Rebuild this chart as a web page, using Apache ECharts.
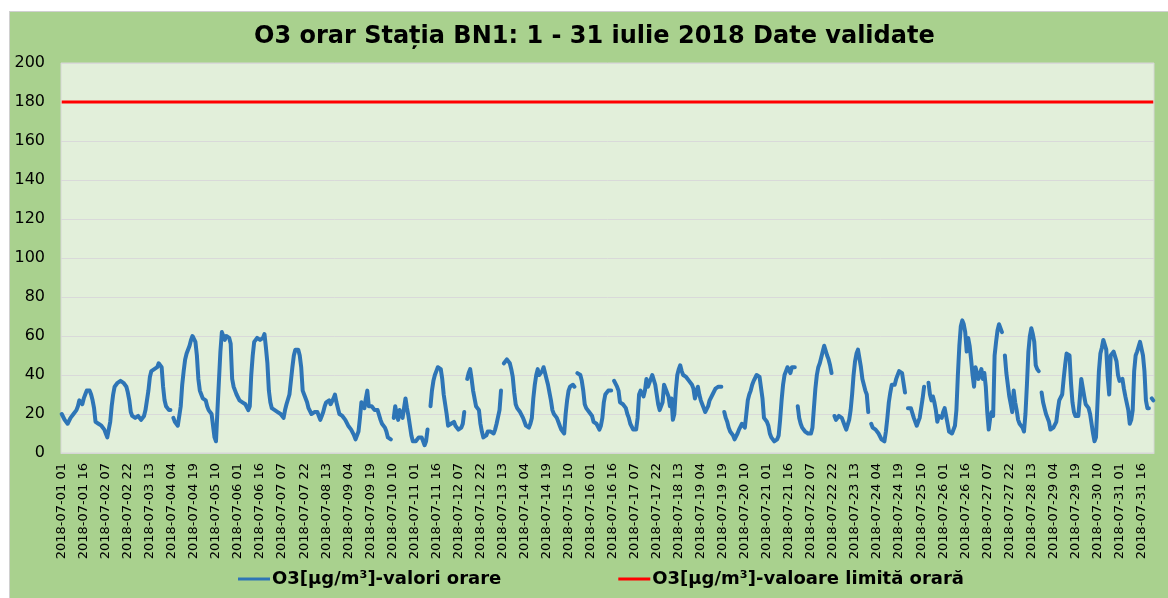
<html lang="ro">
<head>
<meta charset="utf-8">
<title>O3 orar BN1</title>
<script src="https://cdn.jsdelivr.net/npm/echarts@6/dist/echarts.min.js"></script>
<style>
  body { margin: 0; background: #fff; }
  #chart { position: absolute; left: 9px; top: 11px; width: 1159px; height: 587px;
           background: #a9d18e; box-sizing: border-box; border-top: 1px solid #d0d0d0; border-left: 1px solid #d0d0d0; }
</style>
</head>
<body>
<div id="chart"></div>
<script>
// valori orare O3 (µg/m³), o linie = o zi (ore 01..24)
var o3Values = [
  20,19,17,16,15,16,18,19,20,21,22,24,27,26,25,28,30,32,33,32,30,27,23,16,
  15,15,15,14,13,12,10,8,9,16,24,30,34,35,36,37,37,37,36,35,34,31,27,21,
  19,18,18,18,19,18,17,16,19,22,27,32,39,42,43,43,44,44,46,47,44,34,27,24,
  23,22,22,null,18,16,15,14,13,24,35,42,48,51,52,55,58,60,59,57,50,38,32,30,
  28,27,27,24,22,21,20,19,8,6,22,37,52,62,63,58,60,61,59,56,38,34,32,30,
  29,27,26,26,25,25,24,22,24,40,50,57,58,59,60,58,57,59,61,54,46,32,26,23,
  23,22,22,21,21,20,19,18,22,25,26,30,37,44,50,53,53,53,50,44,32,30,29,26,
  23,22,20,21,21,22,21,19,17,19,21,24,26,26,27,25,24,28,30,26,23,20,19,19,
  18,17,16,14,13,12,11,9,7,6,11,18,26,27,23,28,32,24,23,24,23,22,22,22,
  21,17,15,14,13,11,8,7,7,null,18,24,20,17,22,21,18,17,28,23,19,14,9,6,
  6,6,7,8,8,8,6,4,6,12,null,24,32,37,40,42,44,44,43,38,30,25,20,14,
  14,15,16,16,14,13,12,11,13,15,21,null,38,41,43,38,32,28,24,23,22,15,11,8,
  8,9,11,12,11,11,10,12,15,16,22,32,null,46,47,48,47,46,43,39,31,25,23,22,
  21,20,18,16,14,13,13,15,18,28,35,40,43,40,40,42,44,41,38,35,31,27,22,20,
  19,18,16,14,12,11,10,20,27,32,34,35,35,34,null,41,41,40,37,32,25,23,22,21,
  20,19,16,16,15,15,12,14,18,26,30,31,32,33,32,null,37,36,34,32,26,26,25,25,
  23,20,18,15,14,12,11,12,18,30,32,32,29,32,38,34,33,38,40,41,35,30,25,22,
  21,26,35,34,31,29,24,28,17,20,32,40,43,45,42,40,40,39,38,37,36,35,33,28,
  31,34,30,27,25,23,21,22,24,27,28,30,31,33,34,34,35,34,null,21,18,16,13,11,
  10,9,7,7,10,12,13,15,14,13,20,27,30,32,35,37,38,40,40,39,38,28,18,17,
  16,14,10,8,7,6,6,7,9,17,27,35,40,42,44,43,41,44,44,44,null,24,18,15,
  13,12,11,10,10,9,10,13,23,33,40,44,46,49,52,55,54,50,48,45,41,null,19,17,
  18,19,18,18,19,14,12,12,17,22,30,40,47,51,53,52,44,38,35,32,30,21,null,15,
  13,13,12,11,10,9,7,6,6,11,18,26,31,35,36,35,38,40,42,42,41,36,31,null,
  23,24,23,22,18,16,14,15,18,23,28,34,null,null,36,30,27,29,26,22,16,19,20,18,
  21,23,22,15,11,11,10,9,14,22,40,55,65,68,66,62,52,59,55,48,40,34,44,41,
  38,37,43,38,41,34,21,12,18,21,19,50,57,63,66,65,62,null,50,41,35,29,25,21,
  32,26,22,17,15,15,13,11,20,35,52,60,64,61,57,45,43,42,null,31,26,23,20,18,
  16,12,12,13,13,16,22,27,27,30,38,45,51,52,50,36,26,21,19,18,19,28,38,37,
  29,25,24,23,20,15,10,6,8,25,42,51,54,58,59,53,39,30,50,51,52,51,47,40,
  37,36,38,33,29,28,22,15,17,22,42,50,52,53,57,58,50,42,27,23,23,null,28,27
];
var limitValue = 180;
var yTicks = { min: 0, max: 200, step: 20 };

// etichete orare 2018-07-01 01 ... 2018-07-31 24
var categories = [];
for (var d = 1; d <= 31; d++) {
  for (var h = 1; h <= 24; h++) {
    categories.push('2018-07-' + (d < 10 ? '0' + d : d) + ' ' + (h < 10 ? '0' + h : h));
  }
}
var limitValues = categories.map(function () { return limitValue; });

var chart = echarts.init(document.getElementById('chart'), null, { renderer: 'canvas' });
chart.setOption({
  animation: false,
  textStyle: { fontFamily: 'DejaVu Sans, sans-serif' },
  title: {
    text: 'O3 orar Stația BN1: 1 - 31 iulie 2018 Date validate',
    left: 239, top: 8,
    textStyle: { fontSize: 24, fontWeight: 'bold', color: '#000' }
  },
  legend: {
    top: 558, left: 228, padding: 0,
    itemGap: 117, itemWidth: 32, itemHeight: 3, icon: 'rect',
    textStyle: { fontSize: 18, fontWeight: 'bold', color: '#000', padding: [0, 0, 0, -3] },
    data: ['O3[µg/m³]-valori orare', 'O3[µg/m³]-valoare limită orară']
  },
  grid: { left: 51, top: 51, right: 14, bottom: 145, show: true,
          backgroundColor: '#e2efda', borderColor: '#d6d6d6', borderWidth: 1 },
  xAxis: {
    type: 'category', data: categories, boundaryGap: true,
    axisLine: { lineStyle: { color: '#d6d6d6' } },
    axisTick: { show: false },
    axisLabel: { interval: 14, rotate: 90, fontSize: 13, color: '#000', margin: 10 }
  },
  yAxis: {
    type: 'value', min: yTicks.min, max: yTicks.max, interval: yTicks.step,
    axisLine: { show: false }, axisTick: { show: false },
    axisLabel: { fontSize: 16, color: '#000', margin: 16 },
    splitLine: { lineStyle: { color: '#d9d9d9', width: 1 } }
  },
  series: [
    {
      name: 'O3[µg/m³]-valori orare', type: 'line', data: o3Values,
      showSymbol: false, connectNulls: false,
      itemStyle: { color: '#2e75b6' },
      lineStyle: { color: '#2e75b6', width: 4, join: 'round', cap: 'round' }
    },
    {
      name: 'O3[µg/m³]-valoare limită orară', type: 'line', data: limitValues,
      showSymbol: false,
      itemStyle: { color: '#ff0000' },
      lineStyle: { color: '#ff0000', width: 3 }
    }
  ]
});
</script>
</body>
</html>
